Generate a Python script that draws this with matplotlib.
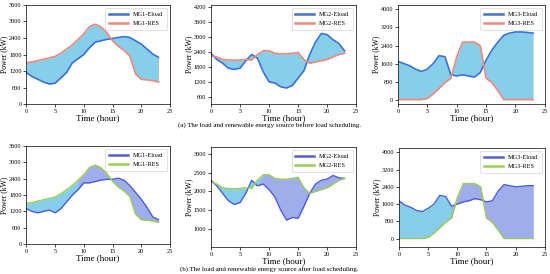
import numpy as np
import matplotlib
matplotlib.use("Agg")
import matplotlib.pyplot as plt

plt.rcParams['font.family'] = ['Liberation Serif', 'DejaVu Serif']

hours = list(range(24))

# before load scheduling
mg1_eload = [1140, 1000, 900, 800, 730, 760, 950, 1150, 1500, 1650, 1800, 2050,
             2250, 2300, 2350, 2380, 2420, 2450, 2420, 2300, 2180, 2000, 1820, 1700]
mg1_res = [1500, 1530, 1580, 1630, 1680, 1730, 1850, 2000, 2150, 2350, 2550, 2820,
           2900, 2800, 2600, 2300, 2100, 1950, 1750, 1100, 900, 880, 850, 800]
mg2_eload = [2350, 2100, 1950, 1750, 1700, 1750, 2050, 2300, 2150, 1600, 1200, 1150,
             1000, 950, 1050, 1350, 1650, 2300, 2800, 3150, 3100, 2900, 2750, 2450]
mg2_res = [2250, 2200, 2100, 2080, 2070, 2080, 2100, 2080, 2300, 2450, 2450, 2350,
           2330, 2330, 2350, 2380, 2100, 1950, 2000, 2050, 2100, 2200, 2300, 2350]
mg3_eload = [1700, 1600, 1500, 1350, 1250, 1350, 1600, 1950, 1900, 1100, 1050, 1100,
             1050, 1000, 1200, 1750, 2200, 2550, 2850, 2950, 3000, 3000, 2980, 2950]
mg3_res = [0, 0, 0, 0, 0, 50, 250, 500, 750, 950, 1900, 2550,
           2550, 2550, 2400, 950, 750, 400, 0, 0, 0, 0, 0, 0]

# after load scheduling
mg1_eload_s = [1300, 1200, 1150, 1200, 1250, 1150, 1300, 1550, 1800, 2000, 2250, 2250,
               2300, 2350, 2380, 2380, 2420, 2350, 2150, 1900, 1650, 1350, 1000, 900]
mg2_eload_s = [2300, 2150, 1950, 1750, 1650, 1700, 1950, 2300, 2150, 2200, 2050, 1850,
               1500, 1230, 1300, 1280, 1600, 1950, 2200, 2300, 2330, 2430, 2370, 2350]
mg3_eload_s = [1750, 1550, 1450, 1300, 1250, 1400, 1600, 2000, 1950, 1500, 1600, 1700,
               1750, 1850, 1800, 1700, 1750, 2200, 2500, 2450, 2400, 2420, 2450, 2450]

fig = plt.figure(figsize=(5.5, 2.74), dpi=100)

panels = [
    # rect, eload, res, name, ylim, yticks, after
    ([0.048, 0.620, 0.261, 0.362], mg1_eload, mg1_res, 'MG1', (0, 3600), range(0, 3601, 600), False),
    ([0.3836, 0.620, 0.264, 0.362], mg2_eload, mg2_res, 'MG2', (300, 4300), range(600, 4201, 600), False),
    ([0.7236, 0.620, 0.267, 0.362], mg3_eload, mg3_res, 'MG3', (-200, 4200), range(0, 4001, 800), False),
    ([0.048, 0.109, 0.261, 0.358], mg1_eload_s, mg1_res, 'MG1', (0, 3600), range(0, 3601, 600), True),
    ([0.3836, 0.098, 0.264, 0.366], mg2_eload_s, mg2_res, 'MG2', (500, 3200), range(1000, 3001, 500), True),
    ([0.7255, 0.098, 0.265, 0.362], mg3_eload_s, mg3_res, 'MG3', (-400, 4200), range(0, 4001, 800), True),
]

for rect, eload, res, name, ylim, yt, after in panels:
    ax = fig.add_axes(rect)
    e = np.array(eload)
    r = np.array(res)
    h = np.array(hours)
    ax.fill_between(hours, e, r, color='#87ceeb', lw=0)
    if after:
        ax.fill_between(hours, e, r, where=h >= 9, interpolate=True,
                        color='#a4a8ec', alpha=0.85, lw=0)
        ax.plot(hours, e, color='#4f5fd6', lw=1.0, label=name + '-Eload')
        ax.plot(hours, r, color='#9acd50', lw=1.0, label=name + '-RES')
    else:
        ax.plot(hours, e, color='#3a72d8', lw=1.2, label=name + '-Eload')
        ax.plot(hours, r, color='#f4877a', lw=1.2, label=name + '-RES')
    ax.set_xlim(0, 25)
    ax.set_xticks(range(0, 26, 5))
    ax.set_ylim(*ylim)
    ax.set_yticks(list(yt))
    ax.tick_params(labelsize=4.5, length=2, width=0.5, pad=1.5)
    for s in ax.spines.values():
        s.set_linewidth(0.5)
    ax.set_xlabel('Time (hour)', fontsize=6.5, labelpad=0)
    ax.set_ylabel('Power (kW)', fontsize=5.5, labelpad=0.3)
    leg = ax.legend(loc='upper right', fontsize=4.5, handlelength=3, frameon=True,
                    fancybox=True, borderpad=0.6, labelspacing=0.6)
    leg.get_frame().set_linewidth(0.5)
    for ln in leg.get_lines():
        ln.set_linewidth(1.8)

fig.text(0.49, 0.545, '(a) The load and renewable energy source before load scheduling.',
         ha='center', va='center', fontsize=5)
fig.text(0.49, 0.018, '(b) The load and renewable energy source after load scheduling.',
         ha='center', va='center', fontsize=5)

fig.savefig('out.png', dpi=100)
